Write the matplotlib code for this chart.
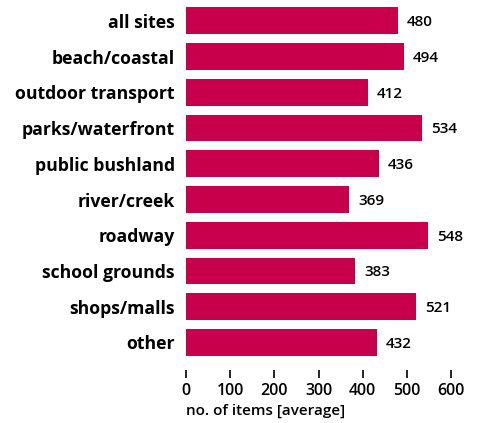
import matplotlib.pyplot as plt

# average number of items per site type
sites = ["all sites", "beach/coastal", "outdoor transport", "parks/waterfront",
         "public bushland", "river/creek", "roadway", "school grounds",
         "shops/malls", "other"]
items = [480, 494, 412, 534, 436, 369, 548, 383, 521, 432]
ticks = [0, 100, 200, 300, 400, 500, 600]

bar_color = "#C8004B"


def main():
    plt.rcParams['font.family'] = ['Open Sans', 'DejaVu Sans']
    fig = plt.figure(figsize=(4.8, 4.23), dpi=100)
    ax = fig.add_axes([186 / 480, (423 - 370) / 423, 265 / 480, 367 / 423])

    ypos = list(range(len(sites)))
    ax.barh(ypos, items, height=0.75, color=bar_color)
    for y, v in zip(ypos, items):
        ax.annotate(str(v), (v, y), xytext=(6.5, -1), textcoords="offset points",
                    va="center", ha="left", fontsize=11, fontweight="semibold")

    ax.set_xlim(0, 600)
    ax.set_ylim(9.77, -0.5)
    ax.set_yticks(ypos)
    ax.set_yticklabels(sites, fontsize=12.7, fontweight="bold")
    ax.set_xticks(ticks)
    ax.set_xticklabels([str(t) for t in ticks], fontsize=11.5, fontweight="semibold")
    ax.tick_params(axis="y", length=0, pad=8)
    ax.tick_params(axis="x", length=5.5, width=1.2, pad=4, direction="out")
    for s in ax.spines.values():
        s.set_visible(False)

    fig.text(186 / 480, 1 - 411 / 423, "no. of items [average]", fontsize=11,
             fontweight="semibold", ha="left", va="center")

    fig.savefig("out.png", dpi=100)


if __name__ == '__main__':
    main()
